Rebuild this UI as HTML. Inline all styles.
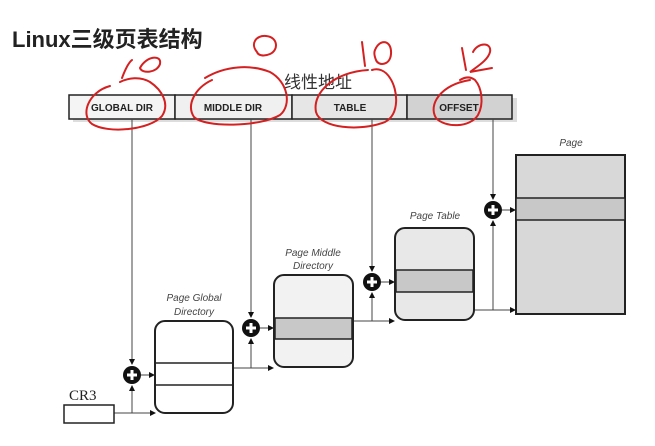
<!DOCTYPE html>
<html><head><meta charset="utf-8"><style>
html,body{margin:0;padding:0;background:#fff;width:655px;height:446px;overflow:hidden}
svg{display:block}
.t{font-family:"Liberation Sans","Noto Sans CJK SC",sans-serif}
.lab{font-family:"Liberation Sans",sans-serif;font-style:italic;font-size:10px;fill:#444}
.b{font-family:"Liberation Sans",sans-serif;font-weight:bold;font-size:10px;fill:#222}
</style></head><body>
<svg width="655" height="446" viewBox="0 0 655 446" xmlns="http://www.w3.org/2000/svg">
<defs><marker id="a" markerWidth="6" markerHeight="6" refX="5" refY="3" orient="auto"><path d="M0,0 L6,3 L0,6z" fill="#111"/></marker></defs>
<rect width="655" height="446" fill="#fff"/>
<text x="12" y="47" class="t" font-size="22" font-weight="bold" fill="#222">Linux三级页表结构</text>
<text x="318" y="88" class="t" font-size="17" fill="#333" text-anchor="middle">线性地址</text>
<rect x="73" y="98" width="444" height="24" fill="#bbb" opacity="0.5"/>
<rect x="69" y="95" width="106" height="24" fill="#f4f4f4" stroke="#222" stroke-width="1.5"/>
<rect x="175" y="95" width="117" height="24" fill="#f0f0f0" stroke="#222" stroke-width="1.5"/>
<rect x="292" y="95" width="115" height="24" fill="#e6e6e6" stroke="#222" stroke-width="1.5"/>
<rect x="407" y="95" width="105" height="24" fill="#d2d2d2" stroke="#222" stroke-width="1.5"/>
<text x="122" y="111" class="b" text-anchor="middle">GLOBAL DIR</text>
<text x="233" y="111" class="b" text-anchor="middle">MIDDLE DIR</text>
<text x="350" y="111" class="b" text-anchor="middle">TABLE</text>
<text x="459" y="111" class="b" text-anchor="middle">OFFSET</text>
<g stroke="#444" stroke-width="1" fill="none">
<line x1="132" y1="119" x2="132" y2="364" marker-end="url(#a)"/>
<line x1="251" y1="119" x2="251" y2="317" marker-end="url(#a)"/>
<line x1="372" y1="119" x2="372" y2="271" marker-end="url(#a)"/>
<line x1="493" y1="119" x2="493" y2="199" marker-end="url(#a)"/>
<polyline points="114,413 155,413" marker-end="url(#a)"/>
<line x1="132" y1="413" x2="132" y2="386" marker-end="url(#a)"/>
<line x1="141" y1="375" x2="154" y2="375" marker-end="url(#a)"/>
<line x1="233" y1="368" x2="273" y2="368" marker-end="url(#a)"/>
<line x1="251" y1="368" x2="251" y2="339" marker-end="url(#a)"/>
<line x1="260" y1="328" x2="273" y2="328" marker-end="url(#a)"/>
<line x1="353" y1="321" x2="394" y2="321" marker-end="url(#a)"/>
<line x1="372" y1="321" x2="372" y2="293" marker-end="url(#a)"/>
<line x1="381" y1="282" x2="394" y2="282" marker-end="url(#a)"/>
<line x1="474" y1="310" x2="515" y2="310" marker-end="url(#a)"/>
<line x1="493" y1="310" x2="493" y2="221" marker-end="url(#a)"/>
<line x1="502" y1="210" x2="515" y2="210" marker-end="url(#a)"/>
</g>
<rect x="64" y="405" width="50" height="18" fill="#fff" stroke="#222" stroke-width="1.5"/>
<text x="69" y="400" font-family="Liberation Serif,serif" font-size="15" fill="#222">CR3</text>
<rect x="155" y="321" width="78" height="92" rx="10" fill="#fff" stroke="#222" stroke-width="2"/>
<line x1="155" y1="363" x2="233" y2="363" stroke="#222" stroke-width="1.5"/>
<line x1="155" y1="385" x2="233" y2="385" stroke="#222" stroke-width="1.5"/>
<text x="194" y="301" class="lab" text-anchor="middle">Page Global</text>
<text x="194" y="315" class="lab" text-anchor="middle">Directory</text>
<rect x="274" y="275" width="79" height="92" rx="10" fill="#f2f2f2" stroke="#222" stroke-width="2"/>
<rect x="275" y="318" width="77" height="21" fill="#c8c8c8" stroke="#222" stroke-width="1.5"/>
<text x="313" y="256" class="lab" text-anchor="middle">Page Middle</text>
<text x="313" y="269" class="lab" text-anchor="middle">Directory</text>
<rect x="395" y="228" width="79" height="92" rx="10" fill="#e8e8e8" stroke="#222" stroke-width="2"/>
<rect x="396" y="270" width="77" height="22" fill="#c8c8c8" stroke="#222" stroke-width="1.5"/>
<text x="435" y="219" class="lab" text-anchor="middle">Page Table</text>
<rect x="516" y="155" width="109" height="159" fill="#d8d8d8" stroke="#222" stroke-width="2"/>
<rect x="516" y="198" width="109" height="22" fill="#c8c8c8" stroke="#222" stroke-width="1.5"/>
<text x="571" y="146" class="lab" text-anchor="middle">Page</text>
<g fill="#111">
<circle cx="132" cy="375" r="9"/><circle cx="251" cy="328" r="9"/>
<circle cx="372" cy="282" r="9"/><circle cx="493" cy="210" r="9"/>
</g>
<g stroke="#fff" stroke-width="3">
<path d="M127,375h10M132,370v10"/><path d="M246,328h10M251,323v10"/>
<path d="M367,282h10M372,277v10"/><path d="M488,210h10M493,205v10"/>
</g>
<g stroke="#d42020" stroke-width="2" fill="none" stroke-linecap="round">
<path d="M110,86 C88,92 80,115 92,124 C108,134 150,130 162,116 C170,104 162,90 150,82 C140,76 128,78 120,82"/>
<path d="M122,78 C125,70 128,63 132,60"/>
<path d="M140,68 C146,56 162,54 160,64 C157,73 142,74 140,68z"/>
<path d="M212,80 C195,88 186,105 194,117 C205,128 260,127 280,115 C292,105 288,82 270,72 C250,64 225,66 205,78"/>
<path d="M257,52 C250,44 256,35 266,36 C278,37 279,50 270,54 C263,57 258,55 257,52z"/>
<path d="M368,70 C335,72 312,92 316,112 C320,128 360,132 385,122 C400,114 398,90 390,78 C385,70 378,68 372,70"/>
<path d="M362,42 L365,66"/>
<path d="M375,50 C380,38 392,40 391,54 C390,66 378,66 376,60 C374,55 374,52 375,50z"/>
<path d="M470,80 C440,85 428,105 436,118 C445,128 470,128 478,115 C484,104 482,88 475,80 C470,76 465,77 460,80"/>
<path d="M462,48 L466,70"/>
<path d="M473,52 C478,42 492,42 490,52 C488,60 478,66 470,72 L492,68"/>
</g>
</svg>
</body></html>
